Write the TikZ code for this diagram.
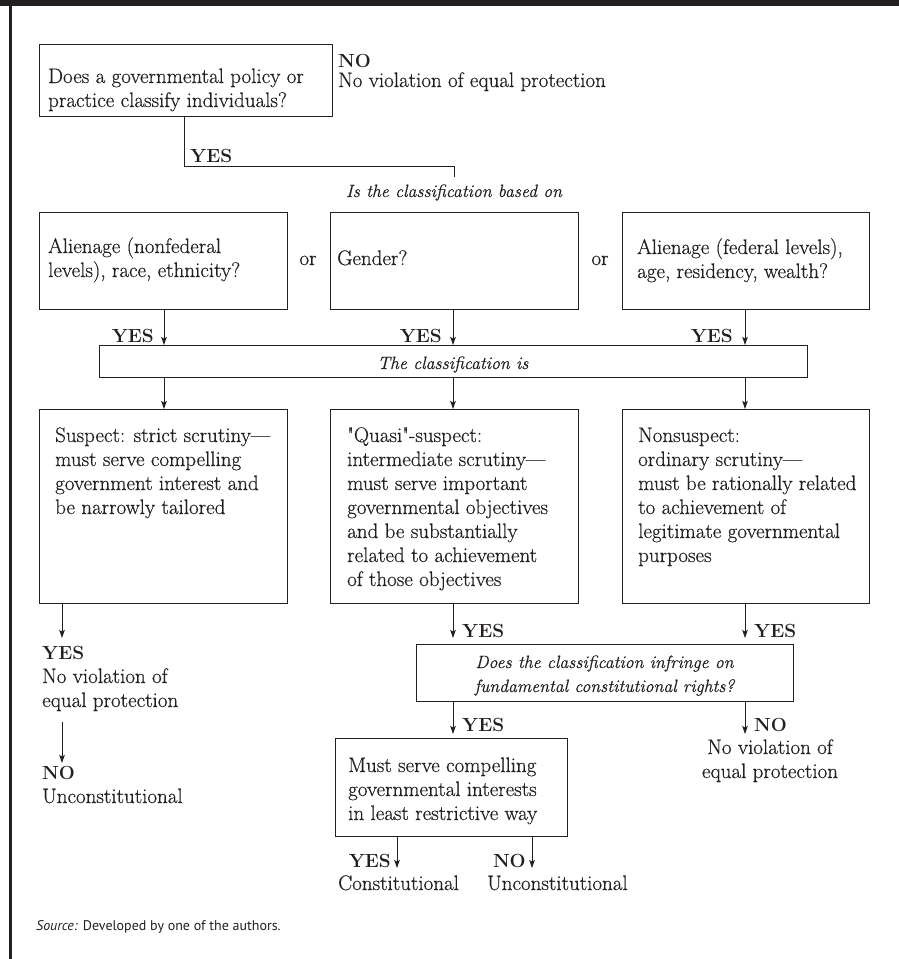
\documentclass[tikz,border=0pt]{standalone}
\usepackage{fontspec}
\setsansfont{PT Sans}
\newfontfamily\gar{Latin Modern Roman}[FakeBold=0.5]
\usetikzlibrary{arrows.meta}
\definecolor{ink}{HTML}{231F20}
\begin{document}
\begin{tikzpicture}[x=1pt,y=-1pt,
  box/.style={draw=ink, line width=0.9pt, inner sep=0pt, anchor=north west},
  rm/.style={text=ink, font=\gar\fontsize{21}{24}\selectfont, inner sep=0pt, align=left, anchor=base west},
  rmc/.style={text=ink, font=\gar\fontsize{21}{24}\selectfont, inner sep=0pt, align=center, anchor=base},
  itx/.style={text=ink, font=\gar\fontsize{17.8}{24}\selectfont\itshape, inner sep=0pt, align=center, anchor=base},
  yn/.style={text=ink, font=\fontsize{19}{24}\selectfont\bfseries, inner sep=0pt},
  conn/.style={draw=ink, line width=0.9pt},
  arr/.style={draw=ink, line width=0.9pt, -{Stealth[length=8pt,width=5.5pt,inset=1.5pt]}},
]
\useasboundingbox (0,0) rectangle (899,959);
% frame
\fill[ink] (0,0) rectangle (899,5.7);
\fill[ink] (9,0) rectangle (12,959);

% coordinates for arrow columns
\coordinate (xa) at (164,0);
\coordinate (xb) at (453,0);
\coordinate (xc) at (745,0);

% top question (multi-line nodes: base = last line's baseline)
\node[box, minimum width=293pt, minimum height=72pt] (Q) at (39,44) {};
\node[rm] (Qt) at (48,107) {Does a governmental policy or\\practice classify individuals?};
\node[yn, anchor=base west] (no1) at (338,67) {NO};
\node[rm] (no1t) at (338,87) {No violation of equal protection};

\coordinate (j0) at (184,116);
\coordinate (j1) at (454,166);
\coordinate (j2) at (454,177);
\draw[conn] (Q.south -| j0) |- (j1) -- (j2);
\node[yn, anchor=base west] (yes1) at (190,162) {YES};
\node[itx] (basedon) at (454,197) {Is the classification based on};

% row of classifications
\node[box, minimum width=248pt, minimum height=97pt] (A) at (39,212) {};
\node[rm] (At) at (48,277) {Alienage (nonfederal\\levels), race, ethnicity?};
\node[rmc] (or1) at (308,265) {or};
\node[box, minimum width=248pt, minimum height=97pt] (B) at (330,212) {};
\node[rm] (Bt) at (337,265) {Gender?};
\node[rmc] (or2) at (600,265) {or};
\node[box, minimum width=247pt, minimum height=97pt] (C) at (622,212) {};
\node[rm] (Ct) at (637,278) {Alienage (federal levels),\\age, residency, wealth?};

% strip 1
\node[box, minimum width=708pt, minimum height=32pt] (S1) at (99,345) {};
\node[itx] (S1t) at (453,369) {The classification is};

\draw[arr] (A.south -| xa) -- (S1.north -| xa);
\draw[arr] (B.south -| xb) -- (S1.north -| xb);
\draw[arr] (C.south -| xc) -- (S1.north -| xc);
\node[yn, anchor=base east] (yA) at (154,342) {YES};
\node[yn, anchor=base east] (yB) at (442,342) {YES};
\node[yn, anchor=base east] (yC) at (733,342) {YES};

% scrutiny boxes
\node[box, minimum width=248pt, minimum height=194pt] (D) at (39,409) {};
\node[rm] (Dt) at (55,514) {Suspect: strict scrutiny—\\must serve compelling\\government interest and\\be narrowly tailored};
\node[box, minimum width=248pt, minimum height=194pt] (E) at (330,409) {};
\node[rm] (Et) at (347,586) {"Quasi"-suspect:\\intermediate scrutiny—\\must serve important\\governmental objectives\\and be substantially\\related to achievement\\of those objectives};
\node[box, minimum width=247pt, minimum height=194pt] (F) at (622,409) {};
\node[rm] (Ft) at (638,562) {Nonsuspect:\\ordinary scrutiny—\\must be rationally related\\to achievement of\\legitimate governmental\\purposes};

\draw[arr] (S1.south -| xa) -- (D.north -| xa);
\draw[arr] (S1.south -| xb) -- (E.north -| xb);
\draw[arr] (S1.south -| xc) -- (F.north -| xc);

% left outcome column
\coordinate (d1) at (62,638);
\coordinate (d2) at (62,722);
\coordinate (d3) at (62,763);
\draw[arr] (D.south -| d1) -- (d1);
\node[yn, anchor=base west] (yD) at (42,659) {YES};
\node[rm] (yDt) at (42,707) {No violation of\\equal protection};
\draw[arr] (d2) -- (d3);
\node[yn, anchor=base west] (nD) at (42,779) {NO};
\node[rm] (nDt) at (42,803) {Unconstitutional};

% strip 2
\node[box, minimum width=377pt, minimum height=57pt] (S2) at (416,644) {};
\node[itx] (S2t) at (604.5,692) {Does the classification infringe on\\fundamental constitutional rights?};
\draw[arr, shorten >=6pt] (E.south -| xb) -- (S2.north -| xb);
\draw[arr, shorten >=6pt] (F.south -| xc) -- (S2.north -| xc);
\node[yn, anchor=base west] (yE) at (462,637) {YES};
\node[yn, anchor=base west] (yF) at (754,637) {YES};

% final box
\node[box, minimum width=232pt, minimum height=98pt] (G) at (335,738) {};
\node[rm] (Gt) at (348,820) {Must serve compelling\\governmental interests\\in least restrictive way};
\draw[arr, shorten >=4pt] (S2.south -| xb) -- (G.north -| xb);
\node[yn, anchor=base west] (yS2) at (462,731) {YES};
\coordinate (n1) at (745,734);
\draw[arr] (S2.south -| n1) -- (n1);
\node[yn, anchor=base west] (nS2) at (754,731) {NO};
\node[rmc] (nS2t) at (770,778) {No violation of\\equal protection};

\coordinate (g1) at (397,868);
\coordinate (g2) at (532,868);
\draw[arr] (G.south -| g1) -- (g1);
\draw[arr] (G.south -| g2) -- (g2);
\node[yn, anchor=base east] (yG) at (391,867) {YES};
\node[yn, anchor=base east] (nG) at (526,867) {NO};
\node[rm] (yGt) at (338,890) {Constitutional};
\node[rm] (nGt) at (487,890) {Unconstitutional};

% source
\node[text=ink, font=\fontsize{14}{16}\selectfont\sffamily, inner sep=0pt, anchor=base west] (src) at (36,930) {\textit{Source:} Developed by one of the authors.};
\end{tikzpicture}
\end{document}
